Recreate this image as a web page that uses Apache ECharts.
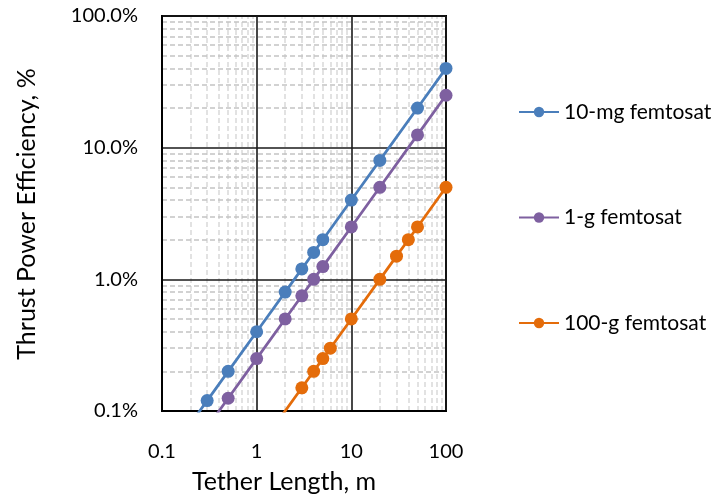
<!DOCTYPE html>
<html>
<head>
<meta charset="utf-8">
<script src="https://cdn.jsdelivr.net/npm/echarts@6/dist/echarts.min.js"></script>
<style>
  html, body { margin: 0; padding: 0; background: #fff; }
  #chart { width: 726px; height: 499px; }
</style>
</head>
<body>
<div id="chart"></div>
<script>
// Tether length (m) and thrust power efficiency (%) for each femtosat mass
const len10mg = [0.2, 0.3, 0.5, 1, 2, 3, 4, 5, 10, 20, 50, 100];
const eff10mg = [0.08, 0.12, 0.2, 0.4, 0.8, 1.2, 1.6, 2, 4, 8, 20, 40];

const len1g = [0.3, 0.5, 1, 2, 3, 4, 5, 10, 20, 50, 100];
const eff1g = [0.075, 0.125, 0.25, 0.5, 0.75, 1, 1.25, 2.5, 5, 12.5, 25];

const len100g = [1, 3, 4, 5, 6, 10, 20, 30, 40, 50, 100];
const eff100g = [0.05, 0.15, 0.2, 0.25, 0.3, 0.5, 1, 1.5, 2, 2.5, 5];

const seriesNames = ['10-mg femtosat', '1-g femtosat', '100-g femtosat'];
const seriesColors = ['#4A7EBB', '#7E60A0', '#E46C0A'];

const FONT = 'Lato, "Liberation Sans", sans-serif';

// minor log gridlines at 2..9 within each decade
function minorValues(decades) {
  const out = [];
  decades.forEach(d => { for (let k = 2; k <= 9; k++) out.push(+(d * k).toPrecision(3)); });
  return out;
}
const xMinor = minorValues([0.1, 1, 10]);
const yMinor = minorValues([0.1, 1, 10]);

function pairs(xs, ys) { return xs.map((x, i) => [x, ys[i]]); }

const lineSeries = [
  pairs(len10mg, eff10mg),
  pairs(len1g, eff1g),
  pairs(len100g, eff100g)
].map((d, i) => ({
  name: seriesNames[i],
  type: 'line',
  data: d,
  z: 3,
  clip: true,
  symbol: 'circle',
  symbolSize: 13,
  showAllSymbol: true,
  color: seriesColors[i],
  lineStyle: { width: 2.75, color: seriesColors[i] },
  itemStyle: { color: seriesColors[i] },
  animation: false
}));

// dashed minor gridlines, kept beneath the major lines and the data
const minorGrid = {
  type: 'line',
  data: [],
  z: 0,
  silent: true,
  animation: false,
  markLine: {
    z: 0,
    silent: true,
    animation: false,
    symbol: ['none', 'none'],
    label: { show: false },
    data: [
      ...xMinor.map(v => ({ xAxis: v, lineStyle: { color: '#d9d9d9', width: 1.5, type: [5, 3] } })),
      ...yMinor.map(v => ({ yAxis: v, lineStyle: { color: '#c4c4c4', width: 1.5, type: [5, 3] } }))
    ]
  }
};

const chart = echarts.init(document.getElementById('chart'), null, { renderer: 'canvas' });
chart.setOption({
  backgroundColor: '#fff',
  animation: false,
  grid: {
    left: 162, top: 16, right: 280, bottom: 88,
    show: true, borderColor: '#000', borderWidth: 2, backgroundColor: 'transparent', z: 2
  },
  legend: {
    orient: 'vertical',
    left: 513,
    top: 96,
    itemWidth: 40,
    itemHeight: 13,
    itemGap: 83.5,
    data: seriesNames,
    textStyle: { fontFamily: FONT, fontSize: 21, color: '#000', lineHeight: 22 }
  },
  xAxis: {
    type: 'log',
    logBase: 10,
    min: 0.1,
    max: 100,
    z: 2,
    axisLine: { show: true, lineStyle: { color: '#000', width: 2 } },
    axisTick: { show: false },
    axisLabel: {
      margin: 31,
      fontFamily: FONT, fontSize: 20, color: '#000',
      formatter: v => (v < 1 ? (+v).toFixed(1) : String(Math.round(v)))
    },
    splitLine: { show: true, lineStyle: { color: '#1a1a1a', width: 1.6 } }
  },
  yAxis: {
    type: 'log',
    logBase: 10,
    min: 0.1,
    max: 100,
    z: 2,
    axisLine: { show: true, lineStyle: { color: '#000', width: 2 } },
    axisTick: { show: false },
    axisLabel: {
      margin: 24,
      fontFamily: FONT, fontSize: 20, color: '#000',
      formatter: v => (+v).toFixed(1) + '%'
    },
    splitLine: { show: true, lineStyle: { color: '#1a1a1a', width: 1.6 } }
  },
  graphic: [
    {
      type: 'text', x: 284, y: 482,
      style: { text: 'Tether Length, m', font: '25px ' + FONT, fill: '#000', align: 'center', verticalAlign: 'middle' }
    },
    {
      type: 'text', x: 27, y: 214, rotation: Math.PI / 2,
      style: { text: 'Thrust Power Efficiency, %', font: '25px ' + FONT, fill: '#000', align: 'center', verticalAlign: 'middle' }
    }
  ],
  series: [minorGrid, ...lineSeries]
});
</script>
</body>
</html>
